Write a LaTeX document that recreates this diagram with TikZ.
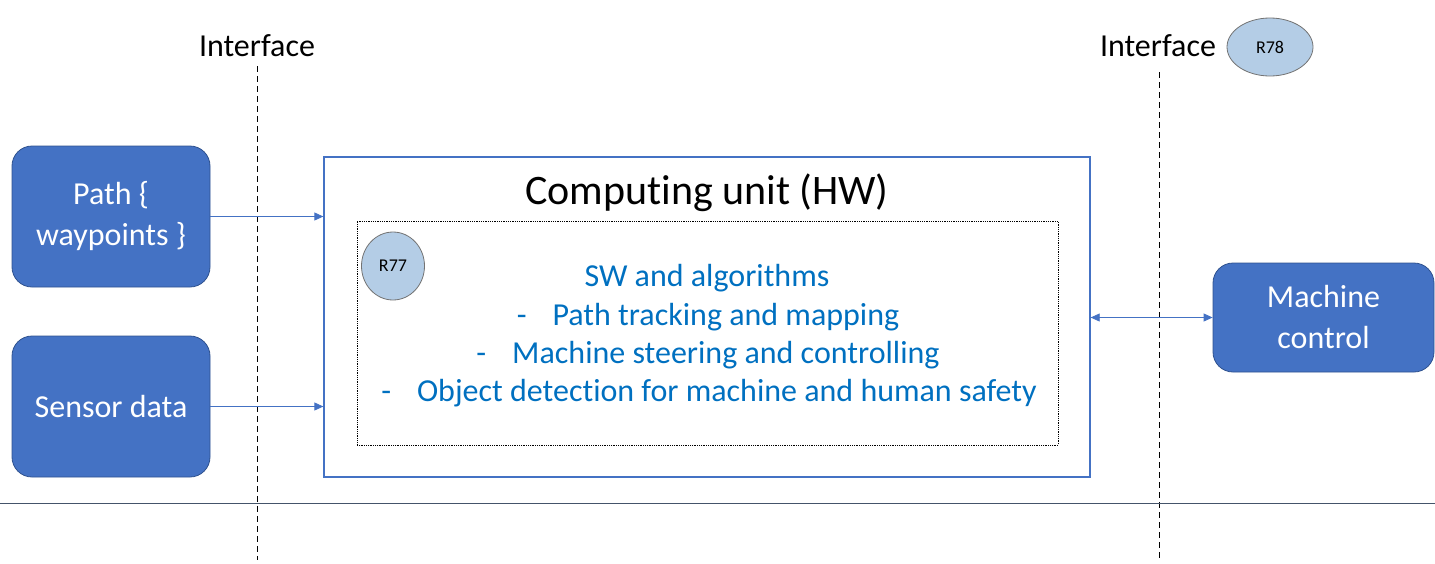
\documentclass[tikz,border=0pt]{standalone}
\usepackage{fontspec}
\setmainfont{Carlito}[Ligatures=NoCommon]
\usetikzlibrary{arrows.meta,shapes.geometric}
\definecolor{boxblue}{HTML}{4472C4}
\definecolor{boxedge}{HTML}{2F528F}
\definecolor{txtblue}{HTML}{0070C0}
\definecolor{bubble}{HTML}{B4CDE6}
\definecolor{rule}{HTML}{44546A}
\tikzset{
  fbox/.style={draw=boxedge, line width=0.8pt, fill=boxblue, rounded corners=20pt, text=white,
    align=center, font=\fontsize{32}{41}\selectfont, inner sep=0pt},
  bubblenode/.style={ellipse, draw=gray!90!black, line width=0.8pt, fill=bubble, inner sep=0pt,
    font=\fontsize{18}{20}\selectfont},
  iflabel/.style={font=\fontsize{32}{36}\selectfont, inner sep=0pt},
  ifline/.style={dashed, line width=1pt, dash pattern=on 6pt off 4pt},
  conn/.style={draw=boxblue, line width=0.8pt, -{Triangle[length=9pt,width=8pt]}},
  swtext/.style={text=txtblue, font=\fontsize{32}{36}\selectfont, inner sep=0pt}
}
\begin{document}
\begin{tikzpicture}[x=1pt,y=-1pt]
\useasboundingbox (0,0) rectangle (1435,563);
% interface labels and lines
\node[iflabel] (ifl) at (257,46) {Interface};
\node[iflabel] (ifr) at (1158,46) {Interface};
\coordinate (ifltop) at (257,66);
\coordinate (iflbot) at (257,560);
\coordinate (ifrtop) at (1159,72);
\coordinate (ifrbot) at (1159,560);
\draw[ifline] (ifltop) -- (iflbot);
\draw[ifline] (ifrtop) -- (ifrbot);
\node[bubblenode, minimum width=86pt, minimum height=58pt] (r78) at (1270,47) {R78};
% left boxes
\node[fbox, minimum width=198pt, minimum height=141pt] (path) at (111,216.5) {Path \{\\waypoints \}};
\node[fbox, minimum width=198pt, minimum height=141pt] (sensor) at (111,406.5) {Sensor data};
% computing unit
\node[draw=boxblue, line width=1.3pt, minimum width=766pt, minimum height=320pt, inner sep=0pt] (cu) at (707,317) {};
\node[font=\fontsize{42}{48}\selectfont, inner sep=0pt] (title) at (707,193) {Computing unit (HW)};
\node[draw=black, densely dotted, line width=0.8pt, minimum width=701pt, minimum height=224pt, inner sep=0pt] (sw) at (707.5,333) {};
\node[bubblenode, minimum width=63pt, minimum height=68pt] (r77) at (393,266) {R77};
\node[swtext] (l1) at (707,278) {SW and algorithms};
\node[swtext] (l2) at (708,317) {-\hspace{26pt}Path tracking and mapping};
\node[swtext] (l3) at (708,355) {-\hspace{26pt}Machine steering and controlling};
\node[swtext] (l4) at (709,393) {-\hspace{26pt}Object detection for machine and human safety};
% machine control
\node[fbox, minimum width=221pt, minimum height=109pt] (mc) at (1323.5,317.5) {Machine\\control};
% connectors
\draw[conn] (path.east) -- (path.east -| cu.west);
\draw[conn] (sensor.east) -- (sensor.east -| cu.west);
\draw[conn, {Triangle[length=9pt,width=8pt]}-{Triangle[length=9pt,width=8pt]}] (cu.east |- mc.west) -- (mc.west);
% bottom rule
\coordinate (rl) at (0,503);
\coordinate (rr) at (1435,503);
\draw[rule, line width=0.9pt] (rl) -- (rr);
\end{tikzpicture}
\end{document}
